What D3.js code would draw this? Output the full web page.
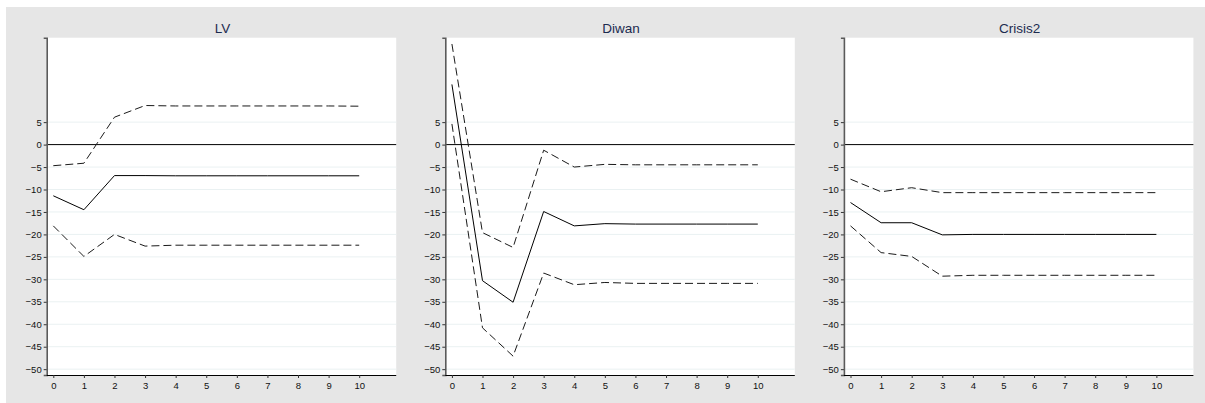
<!DOCTYPE html>
<html>
<head>
<meta charset="utf-8">
<script src="https://cdn.jsdelivr.net/npm/d3@7"></script>
<style>
  html, body { margin: 0; padding: 0; background: #ffffff; }
  svg { display: block; }
</style>
</head>
<body>
<svg id="chart" width="1205" height="403"></svg>
<script>
// Impulse responses over a 10-step horizon, with lower and upper bands
const steps = [0, 1, 2, 3, 4, 5, 6, 7, 8, 9, 10];
const panelTitles = ["LV", "Diwan", "Crisis2"];

const lvIrf   = [-11.4, -14.5, -6.9, -6.9, -6.95, -6.95, -6.95, -6.95, -6.95, -6.95, -6.95];
const lvUpper = [-4.7, -4.15, 6.1, 8.7, 8.6, 8.6, 8.6, 8.6, 8.6, 8.6, 8.55];
const lvLower = [-18.1, -24.9, -20.0, -22.6, -22.4, -22.4, -22.4, -22.4, -22.4, -22.4, -22.4];

const diwanIrf   = [13.4, -30.3, -35.1, -14.9, -18.1, -17.6, -17.7, -17.7, -17.7, -17.7, -17.7];
const diwanUpper = [22.4, -19.6, -22.9, -1.25, -5.0, -4.4, -4.5, -4.5, -4.5, -4.5, -4.5];
const diwanLower = [4.6, -40.8, -47.1, -28.6, -31.2, -30.7, -30.9, -30.9, -30.9, -30.9, -30.9];

const crisisIrf   = [-12.9, -17.4, -17.4, -20.1, -20.0, -20.0, -20.0, -20.0, -20.0, -20.0, -20.0];
const crisisUpper = [-7.7, -10.5, -9.6, -10.7, -10.7, -10.7, -10.7, -10.7, -10.7, -10.7, -10.7];
const crisisLower = [-18.1, -24.05, -24.9, -29.3, -29.1, -29.1, -29.1, -29.1, -29.1, -29.1, -29.1];

const yTicks = [5, 0, -5, -10, -15, -20, -25, -30, -35, -40, -45, -50];
const xTicks = steps;

const panels = [
  { title: panelTitles[0], irf: lvIrf, upper: lvUpper, lower: lvLower },
  { title: panelTitles[1], irf: diwanIrf, upper: diwanUpper, lower: diwanLower },
  { title: panelTitles[2], irf: crisisIrf, upper: crisisUpper, lower: crisisLower }
];

const svg = d3.select("#chart");
const W = 1205, H = 403;

// outer graph region
svg.append("rect").attr("x", 0).attr("y", 0).attr("width", W).attr("height", H).attr("fill", "#ffffff");
svg.append("rect").attr("x", 6).attr("y", 7).attr("width", W - 6).attr("height", H - 7).attr("fill", "#e6e6e6");

const plotTop = 37.7, plotBottom = 375;
const plotLefts = [46.7, 445.3, 843.9];
const plotWidth = 349.5;
const fontFam = "'Liberation Sans', Arial, Helvetica, sans-serif";

const y = d3.scaleLinear().domain([-51.3, 23.8]).range([plotBottom, plotTop]);

panels.forEach((p, i) => {
  const left = plotLefts[i];
  const x = d3.scaleLinear().domain([-0.216, 11.21]).range([left, left + plotWidth]);
  const g = svg.append("g");

  // plot background
  g.append("rect")
    .attr("x", left).attr("y", plotTop)
    .attr("width", plotWidth).attr("height", plotBottom - plotTop)
    .attr("fill", "#ffffff");

  // horizontal grid
  g.selectAll("line.grid").data(yTicks.filter(v => v !== 0)).join("line")
    .attr("class", "grid")
    .attr("x1", left).attr("x2", left + plotWidth)
    .attr("y1", d => y(d)).attr("y2", d => y(d))
    .attr("stroke", "#eaf1f2").attr("stroke-width", 1);

  // zero reference line
  g.append("line")
    .attr("x1", left).attr("x2", left + plotWidth)
    .attr("y1", y(0)).attr("y2", y(0))
    .attr("stroke", "#000000").attr("stroke-width", 1);

  // series
  const line = d3.line().x((d, k) => x(steps[k])).y(d => y(d));
  g.append("path").datum(p.upper).attr("d", line)
    .attr("fill", "none").attr("stroke", "#1a1a1a").attr("stroke-width", 1)
    .attr("stroke-dasharray", "8,4");
  g.append("path").datum(p.lower).attr("d", line)
    .attr("fill", "none").attr("stroke", "#1a1a1a").attr("stroke-width", 1)
    .attr("stroke-dasharray", "8,4");
  g.append("path").datum(p.irf).attr("d", line)
    .attr("fill", "none").attr("stroke", "#000000").attr("stroke-width", 1);

  // y axis
  const yAxis = d3.axisLeft(y).tickValues(yTicks).tickSize(3).tickPadding(2)
    .tickFormat(d3.format("d"));
  const ya = g.append("g").attr("transform", `translate(${left},0)`).call(yAxis);
  ya.select(".domain").attr("stroke", "#5a5a5a").attr("stroke-width", 1.6);
  ya.selectAll(".tick line").attr("stroke", "#333").attr("stroke-width", 1);
  ya.selectAll(".tick text").attr("font-family", fontFam).attr("font-size", 9.5).attr("fill", "#111");

  // x axis
  const xAxis = d3.axisBottom(x).tickValues(xTicks).tickSize(3).tickPadding(4)
    .tickFormat(d3.format("d"));
  const xa = g.append("g").attr("transform", `translate(0,${plotBottom})`).call(xAxis);
  xa.select(".domain").attr("stroke", "#000").attr("stroke-width", 1.2)
    .attr("d", `M${left},0.5H${left + plotWidth}`);
  xa.selectAll(".tick line").attr("stroke", "#333").attr("stroke-width", 1);
  xa.selectAll(".tick text").attr("font-family", fontFam).attr("font-size", 9.5).attr("fill", "#111");

  // title
  g.append("text")
    .attr("x", left + plotWidth / 2 + 1).attr("y", 33)
    .attr("text-anchor", "middle")
    .attr("font-family", fontFam).attr("font-size", 13.5)
    .attr("fill", "#1c2b4f")
    .text(p.title);
});
</script>
</body>
</html>
